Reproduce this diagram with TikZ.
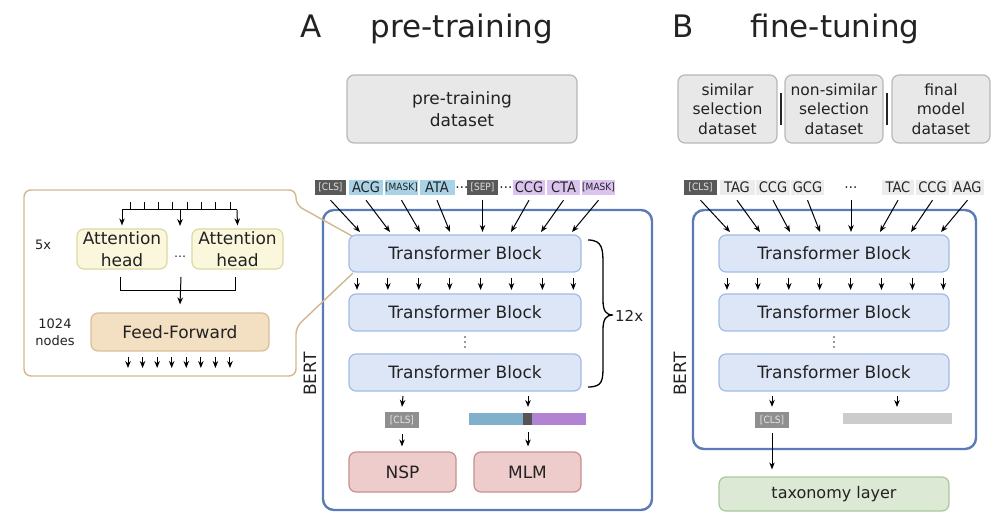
\documentclass[tikz,border=0pt]{standalone}
\usepackage{fontspec}
\setmainfont{DejaVu Sans}
\newfontfamily\condf{DejaVu Sans Condensed}
\usetikzlibrary{arrows.meta,calc}

\definecolor{txt}{HTML}{222222}
\definecolor{dsFill}{HTML}{E8E8E8}
\definecolor{dsBorder}{HTML}{B8B8B8}
\definecolor{tbFill}{HTML}{DCE6F7}
\definecolor{tbBorder}{HTML}{A3BBE3}
\definecolor{bertBlue}{HTML}{5B7AB8}
\definecolor{ahFill}{HTML}{FAF7DC}
\definecolor{ahBorder}{HTML}{DCD9A2}
\definecolor{ffFill}{HTML}{F3DFC1}
\definecolor{ffBorder}{HTML}{D9BF98}
\definecolor{callout}{HTML}{CFB890}
\definecolor{redFill}{HTML}{EFCCCC}
\definecolor{redBorder}{HTML}{C88F8F}
\definecolor{grnFill}{HTML}{DCE9D5}
\definecolor{grnBorder}{HTML}{A9C99B}
\definecolor{tokBlue}{HTML}{A8D2E6}
\definecolor{tokPurple}{HTML}{DBC3EF}
\definecolor{tokDark}{HTML}{595959}
\definecolor{tokGray}{HTML}{ECECEC}
\definecolor{clsGray}{HTML}{8F8F8F}
\definecolor{barBlue}{HTML}{7FB1CB}
\definecolor{barPurple}{HTML}{B283D3}
\definecolor{barDark}{HTML}{555555}
\definecolor{barGray}{HTML}{CCCCCC}

\begin{document}
\begin{tikzpicture}[x=1pt,y=-1pt,
  arr/.style={-{Stealth[length=7pt,width=5.5pt]}, line width=1pt, black},
  box/.style={rounded corners=7pt, line width=1.2pt, inner sep=0pt, align=center, text=txt},
  dsbox/.style={box, draw=dsBorder, fill=dsFill, minimum height=68pt},
  tblock/.style={box, draw=tbBorder, fill=tbFill, minimum width=232pt, minimum height=37pt,
                 font=\fontsize{17}{20}\selectfont},
  bertbox/.style={draw=bertBlue, line width=2.4pt, rounded corners=11pt, inner sep=0pt},
  headbox/.style={box, draw=redBorder, fill=redFill, minimum width=107pt, minimum height=40pt,
                  font=\fontsize{17}{20}\selectfont},
  tok/.style={inner sep=0pt, minimum height=15pt, text=txt, font=\condf\fontsize{14.5}{14.5}\selectfont},
  special/.style={tok, font=\condf\fontsize{10}{10}\selectfont},
  darktok/.style={special, fill=tokDark, text=black!12},
  clsout/.style={inner sep=0pt, minimum width=34pt, minimum height=16pt, fill=clsGray,
                 text=black!10, font=\condf\fontsize{10}{10}\selectfont},
  lbl/.style={inner sep=0pt, text=txt},
]
\useasboundingbox (0,0) rectangle (997,513);

% ---------------- titles ----------------
\node[lbl, anchor=base, font=\fontsize{31}{31}\selectfont] (tA) at (311,38) {A};
\node[lbl, anchor=base, font=\fontsize{31}{31}\selectfont] (tpre) at (462,38) {pre-training};
\node[lbl, anchor=base, font=\fontsize{31}{31}\selectfont] (tB) at (683,38) {B};
\node[lbl, anchor=base, font=\fontsize{31}{31}\selectfont] (tfine) at (835,38) {fine-tuning};

% ---------------- datasets ----------------
\node[dsbox, minimum width=230pt, font=\fontsize{17}{22}\selectfont] (ptds) at (462,109) {pre-training\\dataset};
\node[dsbox, minimum width=99pt, font=\fontsize{15.5}{19.5}\selectfont] (ft1) at (727.5,109) {similar\\selection\\dataset};
\node[dsbox, minimum width=98pt, font=\fontsize{15.5}{19.5}\selectfont] (ft2) at (834,109) {non-similar\\selection\\dataset};
\node[dsbox, minimum width=98pt, font=\fontsize{15.5}{19.5}\selectfont] (ft3) at (941,109) {final\\model\\dataset};
\draw[line width=2pt, black!85] (781,93) -- (781,125);
\draw[line width=2pt, black!85] (887,93) -- (887,125);

% ---------------- BERT frames ----------------
\node[bertbox, minimum width=329pt, minimum height=300pt] (bertA) at (487.5,360) {};
\node[bertbox, minimum width=283pt, minimum height=239pt] (bertB) at (834.5,329.5) {};
\node[lbl, rotate=90, font=\fontsize{17}{17}\selectfont] (lbA) at (310,374) {BERT};
\node[lbl, rotate=90, font=\fontsize{17}{17}\selectfont] (lbB) at (680,374) {BERT};

% ---------------- transformer blocks ----------------
\node[tblock] (tbA1) at (465,253.5) {Transformer Block};
\node[tblock] (tbA2) at (465,312.5) {Transformer Block};
\node[tblock] (tbA3) at (465,372.5) {Transformer Block};
\node[tblock, minimum width=230pt] (tbB1) at (834,253.5) {Transformer Block};
\node[tblock, minimum width=230pt] (tbB2) at (834,312.5) {Transformer Block};
\node[tblock, minimum width=230pt] (tbB3) at (834,372.5) {Transformer Block};

% arrows between block 1 and block 2
\foreach \i in {0,...,7} {
  \draw[arr] (357+30.9*\i,278) -- (357+30.9*\i,290);
  \draw[arr] (727+30.9*\i,278) -- (727+30.9*\i,290);
}
% vertical ellipsis between block 2 and block 3
\foreach \yy in {337,342,347} {
  \fill[black!80] (465,\yy) circle (0.8pt);
  \fill[black!80] (834,\yy) circle (0.8pt);
}

% brace over the stack of blocks
\draw[line width=1.3pt, black] (588,240) .. controls (603,240) and (603,250) .. (603,265)
  -- (603,300) .. controls (603,311) and (606,315) .. (613,315)
  .. controls (606,315) and (603,319) .. (603,330) -- (603,365)
  .. controls (603,380) and (603,387) .. (588,387);
\node[lbl, anchor=west, font=\fontsize{15}{15}\selectfont] (rep) at (615,316) {12x};

% ---------------- input tokens (pre-training) ----------------
\node[darktok, minimum width=31pt] (a1) at (330.5,187.5) {[CLS]};
\node[tok, fill=tokBlue, minimum width=34pt] (a2) at (366,187.5) {ACG};
\node[special, fill=tokBlue, minimum width=33pt] (a3) at (401.5,187.5) {[MASK]};
\node[tok, fill=tokBlue, minimum width=35pt] (a4) at (437,187.5) {ATA};
\node[tok] (d1) at (462,187.5) {\ldots};
\node[darktok, minimum width=31pt] (a5) at (482.5,187.5) {[SEP]};
\node[tok] (d2) at (506,187.5) {\ldots};
\node[tok, fill=tokPurple, minimum width=32pt] (a6) at (529,187.5) {CCG};
\node[tok, fill=tokPurple, minimum width=33pt] (a7) at (563.5,187.5) {CTA};
\node[special, fill=tokPurple, minimum width=33pt] (a8) at (598.5,187.5) {[MASK]};

\foreach \i/\x in {1/360,2/390,3/420,4/450,5/482.5,6/511,7/541,8/572}
  \coordinate (inA\i) at (\x,232);
\foreach \i in {1,...,8}
  \draw[arr] ([yshift=-5pt]a\i.south) -- (inA\i);

% ---------------- input tokens (fine-tuning) ----------------
\node[darktok, minimum width=33pt] (b1) at (700.5,187.5) {[CLS]};
\node[tok, fill=tokGray, minimum width=35pt] (b2) at (737,187.5) {TAG};
\node[tok, fill=tokGray, minimum width=34pt] (b3) at (773,187.5) {CCG};
\node[tok, fill=tokGray, minimum width=33pt] (b4) at (807.5,187.5) {GCG};
\node[tok, minimum width=20pt] (b5) at (851,187.5) {\ldots};
\node[tok, fill=tokGray, minimum width=32pt] (b6) at (898,187.5) {TAC};
\node[tok, fill=tokGray, minimum width=33pt] (b7) at (932.5,187.5) {CCG};
\node[tok, fill=tokGray, minimum width=32pt] (b8) at (967.5,187.5) {AAG};

\foreach \i/\x in {1/730,2/760,3/790,4/820,5/851,6/880,7/911,8/941}
  \coordinate (inB\i) at (\x,232);
\foreach \i in {1,...,8}
  \draw[arr] ([yshift=-5pt]b\i.south) -- (inB\i);

% ---------------- pre-training heads ----------------
\node[clsout] (cA) at (402,420) {[CLS]};
\node[headbox] (nsp) at (402.5,472) {NSP};
\draw[arr] (403,396) -- ([yshift=5pt]cA.north);
\draw[arr] ([yshift=-6pt]cA.south) -- ([yshift=5pt]cA.south |- nsp.north);

\node[inner sep=0pt, minimum width=117pt, minimum height=12pt] (mbar) at (527.5,419) {};
\fill[barBlue] (469,413) rectangle (523,425);
\fill[barDark] (523,413) rectangle (532,425);
\fill[barPurple] (532,413) rectangle (586,425);
\node[headbox] (mlm) at (527.5,472) {MLM};
\draw[arr] (528,396) -- (528,407);
\draw[arr] (528,432) -- ([yshift=5pt]mlm.north -| 528,0);

% ---------------- fine-tuning head ----------------
\node[clsout] (cB) at (772,420) {[CLS]};
\node[fill=barGray, inner sep=0pt, minimum width=109pt, minimum height=11pt] (gbar) at (897.5,418.5) {};
\node[box, draw=grnBorder, fill=grnFill, minimum width=230pt, minimum height=34pt,
      font=\fontsize{16}{19}\selectfont] (tax) at (834,494) {taxonomy layer};
\draw[arr] (772,396) -- ([yshift=5pt]cB.north);
\draw[arr] (897,396) -- (897,407);
\draw[arr] ([yshift=-5pt]cB.south) -- ([yshift=7pt]cB.south |- tax.north);

% ---------------- zoom-in of one transformer block ----------------
\draw[callout, line width=1.4pt, rounded corners=7pt]
  (352,236) -- (296,205) -- (296,190) -- (24,190) -- (24,376) -- (296,376) -- (296,327) -- (353,273);

\draw[line width=1pt] (122,210) -- (237,210);
\foreach \i in {0,...,7}
  \draw[line width=1pt] (130+14.3*\i,202) -- (130+14.3*\i,210);
\node[box, draw=ahBorder, fill=ahFill, minimum width=90pt, minimum height=40pt,
      font=\fontsize{17}{22}\selectfont] (ah1) at (122,249) {Attention\\head};
\node[box, draw=ahBorder, fill=ahFill, minimum width=91pt, minimum height=40pt,
      font=\fontsize{17}{22}\selectfont] (ah2) at (237.5,249) {Attention\\head};
\node[lbl, font=\fontsize{12}{12}\selectfont] (hd) at (180,257) {\ldots};
\draw[arr] (122,210) -- ([yshift=3pt]ah1.north);
\draw[arr] (180,210) -- (180,226);
\draw[arr] (237,210) -- ([yshift=3pt]ah2.north);

\draw[line width=1pt] (120,277) -- (120,291) -- (235,291) -- (235,277);
\node[box, draw=ffBorder, fill=ffFill, minimum width=178pt, minimum height=38pt,
      font=\fontsize{17}{20}\selectfont] (ff) at (180,332) {Feed-Forward};
\draw[arr] (181,277) -- ([yshift=8pt]ff.north);
\foreach \i in {0,...,7}
  \draw[arr] (128+14.57*\i,357) -- (128+14.57*\i,368);

\node[lbl, font=\fontsize{13}{13}\selectfont] (nh) at (43,245) {5x};
\node[lbl, align=center, font=\fontsize{13}{17}\selectfont] (nn) at (55,332) {1024\\nodes};
\end{tikzpicture}
\end{document}
